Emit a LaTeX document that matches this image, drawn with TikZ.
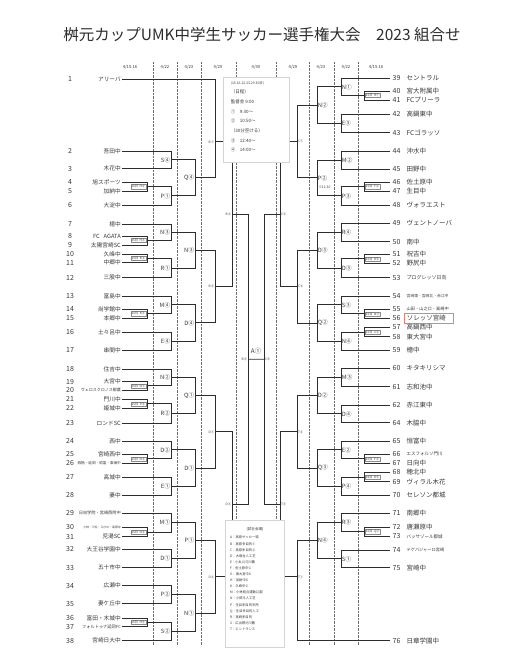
\documentclass[tikz,border=0pt]{standalone}
\usepackage{fontspec}
\setmainfont{Noto Sans CJK JP}
\usetikzlibrary{calc}

\definecolor{brk}{RGB}{45,45,45}
\definecolor{txt}{RGB}{55,55,55}
\definecolor{sepgray}{RGB}{110,110,110}
\definecolor{boxgray}{RGB}{212,212,212}
\definecolor{mark}{RGB}{236,128,110}

\newcommand{\fs}[1]{\fontsize{#1}{#1}\selectfont}

\tikzset{
  bline/.style={draw=brk, line width=0.9pt},
  colsep/.style={draw=sepgray, densely dotted, line width=0.4pt},
  datehd/.style={text=txt, font=\fs{4.2}, inner sep=0pt},
  numL/.style={text=txt, font=\fs{7}, inner sep=0pt},
  numR/.style={text=txt, font=\fs{7}, anchor=west, inner xsep=2.5pt, inner ysep=0pt},
  nameL/.style={text=txt, font=\fs{5.7}, anchor=east, inner xsep=1pt, inner ysep=0pt},
  nameR/.style={text=txt, font=\fs{6.5}, anchor=west, inner sep=0pt},
  hl/.style={draw=mark, line width=0.6pt, text width=44pt, align=left, inner xsep=2.5pt, inner ysep=1.6pt, xshift=-2.5pt},
  labL/.style={text=txt, font=\fs{5.8}, anchor=east, inner sep=0.6pt},
  labR/.style={text=txt, font=\fs{5.8}, anchor=west, inner sep=0.6pt},
  venL/.style={text=txt, font=\fs{3.2}, anchor=east, inner sep=0.8pt},
  venR/.style={text=txt, font=\fs{3.2}, anchor=west, inner sep=0.8pt},
  preL/.style={text=txt, font=\fs{3.2}, anchor=east, draw=brk!55, line width=0.25pt, fill=white, inner sep=0.6pt, xshift=-1.2pt},
  preR/.style={text=txt, font=\fs{3.2}, anchor=west, draw=brk!55, line width=0.25pt, fill=white, inner sep=0.6pt, xshift=1.2pt},
  infobox/.style={draw=boxgray, fill=white, line width=0.5pt},
}

% team rows
\newcommand{\teamL}[3]{%
  \node[numL] (n#1) at (70,#2) {#1};
  \node[nameL] (t#1) at (122,#2) {#3};}
\newcommand{\teamR}[4][]{%
  \node[numR] (n#2) at (390,#3) {#2};
  \node[nameR,#1] (t#2) at (406.5,#3) {#4};}
% one match: two feeders joined at the column #4
\newcommand{\bfork}[7][0.5]{%
  \draw[bline] (#2) -- (#2 -| #4) -- (#3 -| #4) -- (#3);
  \coordinate (#5) at ($(#2 -| #4)!#1!(#3 -| #4)$);
  \node[#6] (#5-l) at (#5) {#7};}

\begin{document}
\begin{tikzpicture}[x=1pt, y=-1pt]
\useasboundingbox (0,0) rectangle (528,650);

\node[text=brk, font=\fs{15.5}] (title) at (262,35) {桝元カップUMK中学生サッカー選手権大会　2023 組合せ};

% columns
\coordinate (cP) at (147,0);
\coordinate (c1) at (171,0);
\coordinate (c2) at (195,0);
\coordinate (c3) at (215,0);
\coordinate (c4) at (232,0);
\coordinate (c5) at (248,0);
\coordinate (d5) at (264,0);
\coordinate (d4) at (280,0);
\coordinate (d3) at (297,0);
\coordinate (d2) at (317,0);
\coordinate (d1) at (341,0);
\coordinate (dP) at (364,0);

% dates and dotted separators
\node[datehd] (h1) at (130,67) {4/15.16};
\node[datehd] (h2) at (165,67) {4/22};
\node[datehd] (h3) at (189,67) {4/23};
\node[datehd] (h4) at (218,67) {4/29};
\node[datehd] (h5) at (256,67) {4/30};
\node[datehd] (h6) at (293,67) {4/29};
\node[datehd] (h7) at (321,67) {4/23};
\node[datehd] (h8) at (346,67) {4/22};
\node[datehd] (h9) at (376,67) {4/15.16};
\draw[colsep] (153,62) -- (153,645);
\draw[colsep] (177,62) -- (177,645);
\draw[colsep] (201,62) -- (201,645);
\draw[colsep] (236,62) -- (236,645);
\draw[colsep] (276,62) -- (276,645);
\draw[colsep] (309,62) -- (309,645);
\draw[colsep] (334,62) -- (334,645);
\draw[colsep] (358,62) -- (358,645);

% left teams
\teamL{1}{79}{アリーバ}
\teamL{2}{151}{吾田中}
\teamL{3}{168.7}{木花中}
\teamL{4}{182.3}{旭スポーツ}
\teamL{5}{191}{加納中}
\teamL{6}{205}{大淀中}
\teamL{7}{224}{檍中}
\teamL{8}{236}{FC\hspace{4pt}AGATA}
\teamL{9}{245}{太陽宮崎SC}
\teamL{10}{254.3}{久峰中}
\teamL{11}{262.7}{中郷中}
\teamL{12}{277.7}{三股中}
\teamL{13}{296}{富島中}
\teamL{14}{309.3}{尚学館中}
\teamL{15}{318}{本郷中}
\teamL{16}{332}{土々呂中}
\teamL{17}{350}{串間中}
\teamL{18}{369}{住吉中}
\teamL{19}{381.7}{大宮中}
\teamL{20}{390}{\fs{4}ヴェロスクロノス都農}
\teamL{21}{399.3}{門川中}
\teamL{22}{408.3}{姫城中}
\teamL{23}{423.3}{ロンドSC}
\teamL{24}{441}{西中}
\teamL{25}{454.3}{宮崎西中}
\teamL{26}{463.3}{\fs{3.6}西階・延岡・岡富・東海中}
\teamL{27}{477.3}{高城中}
\teamL{28}{495.3}{妻中}
\teamL{29}{513.3}{\fs{4.2}日向学院・宮崎西附中}
\teamL{30}{527.3}{\fs{2.9}小林・三松・えびの・高原中}
\teamL{31}{536.7}{児湯SC}
\teamL{32}{549.3}{大王谷学園中}
\teamL{33}{567.7}{五十市中}
\teamL{34}{585.7}{広瀬中}
\teamL{35}{603.7}{妻ケ丘中}
\teamL{36}{618.3}{富田・木城中}
\teamL{37}{626.7}{\fs{4.2}フォルトゥナ延岡FC}
\teamL{38}{640.7}{宮崎日大中}

% right teams
\teamR{39}{78.3}{セントラル}
\teamR{40}{91}{宮大附属中}
\teamR{41}{100}{FCプリーラ}
\teamR{42}{114.3}{高鍋東中}
\teamR{43}{132.7}{FCゴラッソ}
\teamR{44}{151}{沖水中}
\teamR{45}{169}{田野中}
\teamR{46}{182.3}{佐土原中}
\teamR{47}{191}{生目中}
\teamR{48}{205}{ヴォラエスト}
\teamR{49}{223.3}{ヴェントノーバ}
\teamR{50}{241.7}{南中}
\teamR{51}{254.3}{祝吉中}
\teamR{52}{263.3}{野尻中}
\teamR{53}{277.7}{\fs{5}プログレッソ日向}
\teamR{54}{296}{\fs{3.8}宮崎東・宮崎北・赤江中}
\teamR{55}{309.3}{\fs{4.2}山田・山之口・高崎中}
\teamR[hl]{56}{318.3}{ソレッソ宮崎}
\teamR{57}{327.3}{高鍋西中}
\teamR{58}{336.7}{東大宮中}
\teamR{59}{350}{檍中}
\teamR{60}{368.3}{キタキリシマ}
\teamR{61}{386.7}{志和池中}
\teamR{62}{405}{赤江東中}
\teamR{64}{422.7}{木脇中}
\teamR{65}{441}{恒富中}
\teamR{66}{454.3}{\fs{4.5}エスフォルソ門川}
\teamR{67}{463.3}{日向中}
\teamR{68}{472.3}{穂北中}
\teamR{69}{481.7}{ヴィラル木花}
\teamR{70}{495}{セレソン都城}
\teamR{71}{513.3}{南郷中}
\teamR{72}{527.3}{唐瀬原中}
\teamR{73}{536.3}{\fs{4.5}バッサゾール都城}
\teamR{74}{550}{\fs{4.2}テゲバジャーロ宮崎}
\teamR{75}{567.7}{宮崎中}
\teamR{76}{640.7}{日章学園中}

% left bracket
\bfork{t2.east}{t3.east}{c1}{a1}{labL}{S④}
\bfork{t4.east}{t5.east}{cP}{p1}{preL}{15日\ \ H②}
\bfork{p1}{t6.east}{c1}{a2}{labL}{P①}
\bfork{a1}{a2}{c2}{b1}{labL}{Q④}
\bfork[0.636]{t1.east}{b1}{c3}{q1}{venL}{B①}
\bfork{t8.east}{t9.east}{cP}{p2}{preL}{15日\ \ H③}
\bfork{t7.east}{p2}{c1}{a3}{labL}{N③}
\bfork{t10.east}{t11.east}{cP}{p3}{preL}{15日\ \ K②}
\bfork{p3}{t12.east}{c1}{a4}{labL}{R①}
\bfork{a3}{a4}{c2}{b2}{labL}{N③}
\bfork{t14.east}{t15.east}{cP}{p4}{preL}{15日\ \ K③}
\bfork{t13.east}{p4}{c1}{a5}{labL}{M④}
\bfork{t16.east}{t17.east}{c1}{a6}{labL}{E④}
\bfork{a5}{a6}{c2}{b3}{labL}{D④}
\bfork{b2}{b3}{c3}{q2}{venL}{B②}
\bfork{q1}{q2}{c4}{s1}{venL}{B③}
\bfork{t19.east}{t20.east}{cP}{p5}{preL}{15日\ \ N①}
\bfork{t18.east}{p5}{c1}{a7}{labL}{N②}
\bfork{t21.east}{t22.east}{cP}{p6}{preL}{15日\ \ P③}
\bfork{p6}{t23.east}{c1}{a8}{labL}{R②}
\bfork{a7}{a8}{c2}{b4}{labL}{Q①}
\bfork{t25.east}{t26.east}{cP}{p7}{preL}{15日\ \ N③}
\bfork{t24.east}{p7}{c1}{a9}{labL}{D②}
\bfork{t27.east}{t28.east}{c1}{a10}{labL}{E①}
\bfork{a9}{a10}{c2}{b5}{labL}{D①}
\bfork{b4}{b5}{c3}{q3}{venL}{D①}
\bfork{t30.east}{t31.east}{cP}{p8}{preL}{15日\ \ N②}
\bfork{t29.east}{p8}{c1}{a11}{labL}{M①}
\bfork{t32.east}{t33.east}{c1}{a12}{labL}{D①}
\bfork{a11}{a12}{c2}{b6}{labL}{P①}
\bfork{t34.east}{t35.east}{c1}{a13}{labL}{P②}
\bfork{t36.east}{t37.east}{cP}{p9}{preL}{15日\ \ H④}
\bfork{p9}{t38.east}{c1}{a14}{labL}{S②}
\bfork{a13}{a14}{c2}{b7}{labL}{N①}
\bfork{b6}{b7}{c3}{q4}{venL}{D②}
\bfork{q3}{q4}{c4}{s2}{venL}{D③}
\bfork{s1}{s2}{c5}{fL}{venL}{B④}

% right bracket
\bfork{n40.west}{n41.west}{dP}{r1}{preR}{15日\ \ H①}
\bfork{n39.west}{r1}{d1}{e1}{labR}{N①}
\bfork{n42.west}{n43.west}{d1}{e2}{labR}{E③}
\bfork{e1}{e2}{d2}{g1}{labR}{N②}
\bfork{n44.west}{n45.west}{d1}{e3}{labR}{M②}
\bfork{n46.west}{n47.west}{dP}{r2}{preR}{15日\ \ F②}
\bfork{r2}{n48.west}{d1}{e4}{labR}{P③}
\bfork{e3}{e4}{d2}{g2}{labR}{P②}
\node[venR, font=\fs{3.4}] (g2-note) at (317.5,187) {※11:30};
\bfork{g1}{g2}{d3}{h1}{venR}{C①}
\bfork{n49.west}{n50.west}{d1}{e5}{labR}{R④}
\bfork{n51.west}{n52.west}{dP}{r3}{preR}{15日\ \ K③}
\bfork{r3}{n53.west}{d1}{e6}{labR}{D③}
\bfork{e5}{e6}{d2}{g3}{labR}{D③}
\bfork{n55.west}{n56.west}{dP}{r4}{preR}{15日\ \ N②}
\bfork{n54.west}{r4}{d1}{e7}{labR}{S③}
\bfork{n57.west}{n58.west}{dP}{r5}{preR}{15日\ \ S③}
\bfork{r5}{n59.west}{d1}{e8}{labR}{N④}
\bfork{e7}{e8}{d2}{g4}{labR}{Q②}
\bfork{g3}{g4}{d3}{h2}{venR}{C②}
\bfork{h1}{h2}{d4}{u1}{venR}{C③}
\bfork{n60.west}{n61.west}{d1}{e9}{labR}{M③}
\bfork{n62.west}{n64.west}{d1}{e10}{labR}{D④}
\bfork{e9}{e10}{d2}{g5}{labR}{D②}
\bfork{n66.west}{n67.west}{dP}{r6}{preR}{15日\ \ F③}
\bfork{n65.west}{r6}{d1}{e11}{labR}{E②}
\bfork{n68.west}{n69.west}{dP}{r7}{preR}{16日\ \ K③}
\bfork{r7}{n70.west}{d1}{e12}{labR}{P④}
\bfork{e11}{e12}{d2}{g6}{labR}{Q③}
\bfork{g5}{g6}{d3}{h3}{venR}{T②}
\bfork{n72.west}{n73.west}{dP}{r8}{preR}{15日\ \ Q③}
\bfork{n71.west}{r8}{d1}{e13}{labR}{R③}
\bfork{n74.west}{n75.west}{d1}{e14}{labR}{S①}
\bfork{e13}{e14}{d2}{g7}{labR}{N④}
\bfork[0.361]{g7}{n76.west}{d3}{h4}{venR}{T①}
\bfork{h3}{h4}{d4}{u2}{venR}{T③}
\bfork{u1}{u2}{d5}{fR}{venR}{C④}

% final
\draw[bline] (fL) -- (fR);
\node[text=txt, font=\fs{6.3}, inner sep=0pt] (final) at (256,351) {A①};

% schedule box
\node[infobox, minimum width=66pt, minimum height=85pt] (sched) at (256,119.5) {};
\node[text=txt, font=\fs{4.5}, align=left, anchor=north west, inner sep=0pt,
      execute at begin node={\setlength{\baselineskip}{9.67pt}}] (schedtxt)
  at ($(sched.north west)+(8,4.5)$)
  {{\fs{3.4}(15.16.22.23.29.30日)}\\（日程）\\監督会 9:00\\①\quad 9:30〜\\②\quad 10:50〜\\（30分空ける）\\③\quad 12:40〜\\④\quad 14:00〜};

% venue box
\node[infobox, minimum width=58.3pt, minimum height=127pt] (venue) at (254.85,583.5) {};
\node[text=txt, font=\fs{3.6}, inner sep=0pt] (venuehd) at (255,529.3) {(試合会場)};
\node[text=txt, font=\fs{3.3}, align=left, anchor=north west, inner sep=0pt,
      execute at begin node={\setlength{\baselineskip}{6.1pt}}] (venuetxt)
  at (230,536)
  {A：高原サッカー場\\B：高原多目的①\\C：高原多目的②\\D：大塚台人工芝\\E：小丸川河川敷\\F：佐土原中G\\G：東大宮中G\\H：加納中G\\K：久峰中G\\M：小林総合運動公園\\N：小田元人工芝\\P：生目多目的天然\\Q：生目多目的人工\\R：高崎多目的\\S：広出野河川敷\\T：エントランス};
\end{tikzpicture}
\end{document}
